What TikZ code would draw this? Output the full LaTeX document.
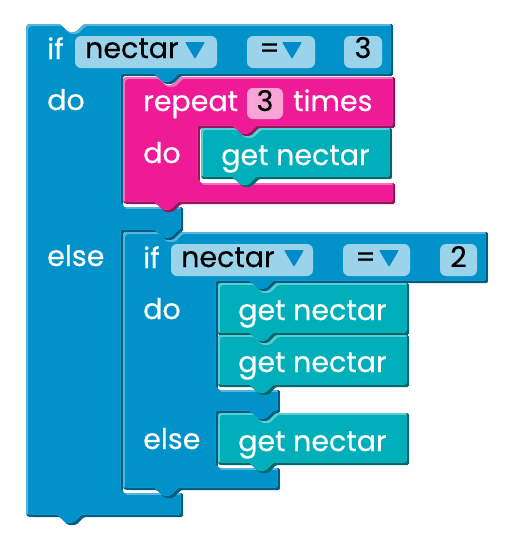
\documentclass[tikz,border=0pt]{standalone}
\usepackage{fontspec}
\setmainfont{Poppins}[UprightFeatures={FakeBold=0.4}]
\definecolor{bluemain}{RGB}{2,146,202}
\definecolor{bluelight}{RGB}{84,182,222}
\definecolor{bluedark}{RGB}{0,93,132}
\definecolor{bluefield}{RGB}{155,211,234}
\definecolor{bluearrow}{RGB}{0,140,200}
\definecolor{pinkmain}{RGB}{239,26,150}
\definecolor{pinklight}{RGB}{250,110,190}
\definecolor{pinkdark}{RGB}{150,20,90}
\definecolor{pinkfield}{RGB}{249,164,214}
\definecolor{tealmain}{RGB}{0,175,185}
\definecolor{teallight}{RGB}{90,205,212}
\definecolor{tealdark}{RGB}{0,105,112}
% #1 outline, #2 face, #3 highlight (top/left rim), #4 shadow (bottom/right rim)
\newcommand\drawblock[4]{%
  \begin{scope}[rounded corners=1.5pt]
    \clip #1;
    \fill[#4] #1;
    \path[clip,shift={(-2.5,-2.5)}] #1;
    \fill[#3] #1;
    \path[clip,shift={(2,2)}] #1;
    \fill[#2] #1;
  \end{scope}}
\newcommand\dropdown[2]{\fill[bluearrow,rounded corners=1pt] (#1,#2) -- ++(20,0) -- ++(-10,17) -- cycle;}
\begin{document}
\begin{tikzpicture}[x=1pt,y=-1pt,
  lbl/.style={anchor=base west,inner sep=0pt,text=white,font=\fontsize{28.5}{32}\selectfont},
  val/.style={anchor=base west,inner sep=0pt,text=black,font=\fontsize{28.5}{32}\selectfont},
  num/.style={anchor=base,inner sep=0pt,text=black,font=\fontsize{28.5}{32}\selectfont}]
\useasboundingbox (0,0) rectangle (518,552);

% outer if / else block
\drawblock{(26,34) .. controls (26,24) .. (36,24) -- (60,24) -- ++(8,8) -- ++(8,0) -- ++(8,-8) -- (393,24) -- (393,76) -- (181,76) -- ++(-8,8) -- ++(-8,0) -- ++(-8,-8) -- (123,76) -- (123,207) -- (183,207) -- (183,232) -- (181,232) -- ++(-8,8) -- ++(-8,0) -- ++(-8,-8) -- (123,232) -- (123,493) -- (183,493) -- (183,517) -- (84,517) -- ++(-8,8) -- ++(-8,0) -- ++(-8,-8) -- (36,517) .. controls (26,517) .. (26,507) -- cycle}{bluemain}{bluelight}{bluedark}
\fill[bluefield,rounded corners=6pt] (75,36) rectangle (217,68);
\fill[bluefield,rounded corners=6pt] (247,36) rectangle (315,68);
\fill[bluefield,rounded corners=6pt] (344,36) rectangle (382,68);
\node[lbl] (if1) at (47,59) {if};
\node[val] (var1) at (85,58) {nectar};
\dropdown{185}{42}
\node[val] (op1) at (259,58) {=};
\dropdown{282}{42}
\node[num] (n1) at (363,58) {3};
\node[lbl] (do1) at (47,110) {do};
\node[lbl] (else1) at (47,266) {else};

% repeat block
\drawblock{(123,87) .. controls (123,77) .. (133,77) -- (157,77) -- ++(8,8) -- ++(8,0) -- ++(8,-8) -- (395,77) -- (395,128) -- (259,128) -- ++(-8,8) -- ++(-8,0) -- ++(-8,-8) -- (200,128) -- (200,183) -- (395,183) -- (395,204) -- (181,204) -- ++(-8,8) -- ++(-8,0) -- ++(-8,-8) -- (133,204) .. controls (123,204) .. (123,194) -- cycle}{pinkmain}{pinklight}{pinkdark}
\fill[pinkfield,rounded corners=6pt] (247,88) rectangle (283,119);
\node[lbl] (rep) at (143,111) {repeat};
\node[num] (n2) at (265,111) {3};
\node[lbl] (times) at (293,111) {times};
\node[lbl] (do2) at (143,163) {do};

% get nectar inside repeat
\drawblock{(201,136) .. controls (201,128) .. (209,128) -- (235,128) -- ++(8,8) -- ++(8,0) -- ++(8,-8) -- (392,128) -- (392,179) -- (259,179) -- ++(-8,8) -- ++(-8,0) -- ++(-8,-8) -- (209,179) .. controls (201,179) .. (201,171) -- cycle}{tealmain}{teallight}{tealdark}
\node[lbl] (g1) at (221,165) {get nectar};

% nested if / else block
\drawblock{(123,242) .. controls (123,232) .. (133,232) -- (157,232) -- ++(8,8) -- ++(8,0) -- ++(8,-8) -- (488,232) -- (488,283) -- (276,283) -- ++(-8,8) -- ++(-8,0) -- ++(-8,-8) -- (218,283) -- (218,390) -- (280,390) -- (280,413) -- (276,413) -- ++(-8,8) -- ++(-8,0) -- ++(-8,-8) -- (218,413) -- (218,468) -- (280,468) -- (280,490) -- (181,490) -- ++(-8,8) -- ++(-8,0) -- ++(-8,-8) -- (133,490) .. controls (123,490) .. (123,480) -- cycle}{bluemain}{bluelight}{bluedark}
\fill[bluefield,rounded corners=6pt] (171,244) rectangle (313,276);
\fill[bluefield,rounded corners=6pt] (343,244) rectangle (410,276);
\fill[bluefield,rounded corners=6pt] (440,244) rectangle (477,276);
\node[lbl] (if2) at (143,268) {if};
\node[val] (var2) at (181,267) {nectar};
\dropdown{284}{250}
\node[val] (op2) at (355,267) {=};
\dropdown{379}{250}
\node[num] (n3) at (458.5,267) {2};
\node[lbl] (do3) at (143,319) {do};
\node[lbl] (else2) at (143,449) {else};

% stacked get nectar blocks
\drawblock{(218,291) .. controls (218,283) .. (226,283) -- (252,283) -- ++(8,8) -- ++(8,0) -- ++(8,-8) -- (409,283) -- (409,335) -- (276,335) -- ++(-8,8) -- ++(-8,0) -- ++(-8,-8) -- (218,335) -- cycle}{tealmain}{teallight}{tealdark}
\drawblock{(218,335) -- (252,335) -- ++(8,8) -- ++(8,0) -- ++(8,-8) -- (409,335) -- (409,387) -- (276,387) -- ++(-8,8) -- ++(-8,0) -- ++(-8,-8) -- (226,387) .. controls (218,387) .. (218,379) -- cycle}{tealmain}{teallight}{tealdark}
\drawblock{(218,421) .. controls (218,413) .. (226,413) -- (252,413) -- ++(8,8) -- ++(8,0) -- ++(8,-8) -- (409,413) -- (409,465) -- (276,465) -- ++(-8,8) -- ++(-8,0) -- ++(-8,-8) -- (226,465) .. controls (218,465) .. (218,457) -- cycle}{tealmain}{teallight}{tealdark}
\node[lbl] (g2) at (238,320) {get nectar};
\node[lbl] (g3) at (238,372) {get nectar};
\node[lbl] (g4) at (238,451) {get nectar};
\end{tikzpicture}
\end{document}
